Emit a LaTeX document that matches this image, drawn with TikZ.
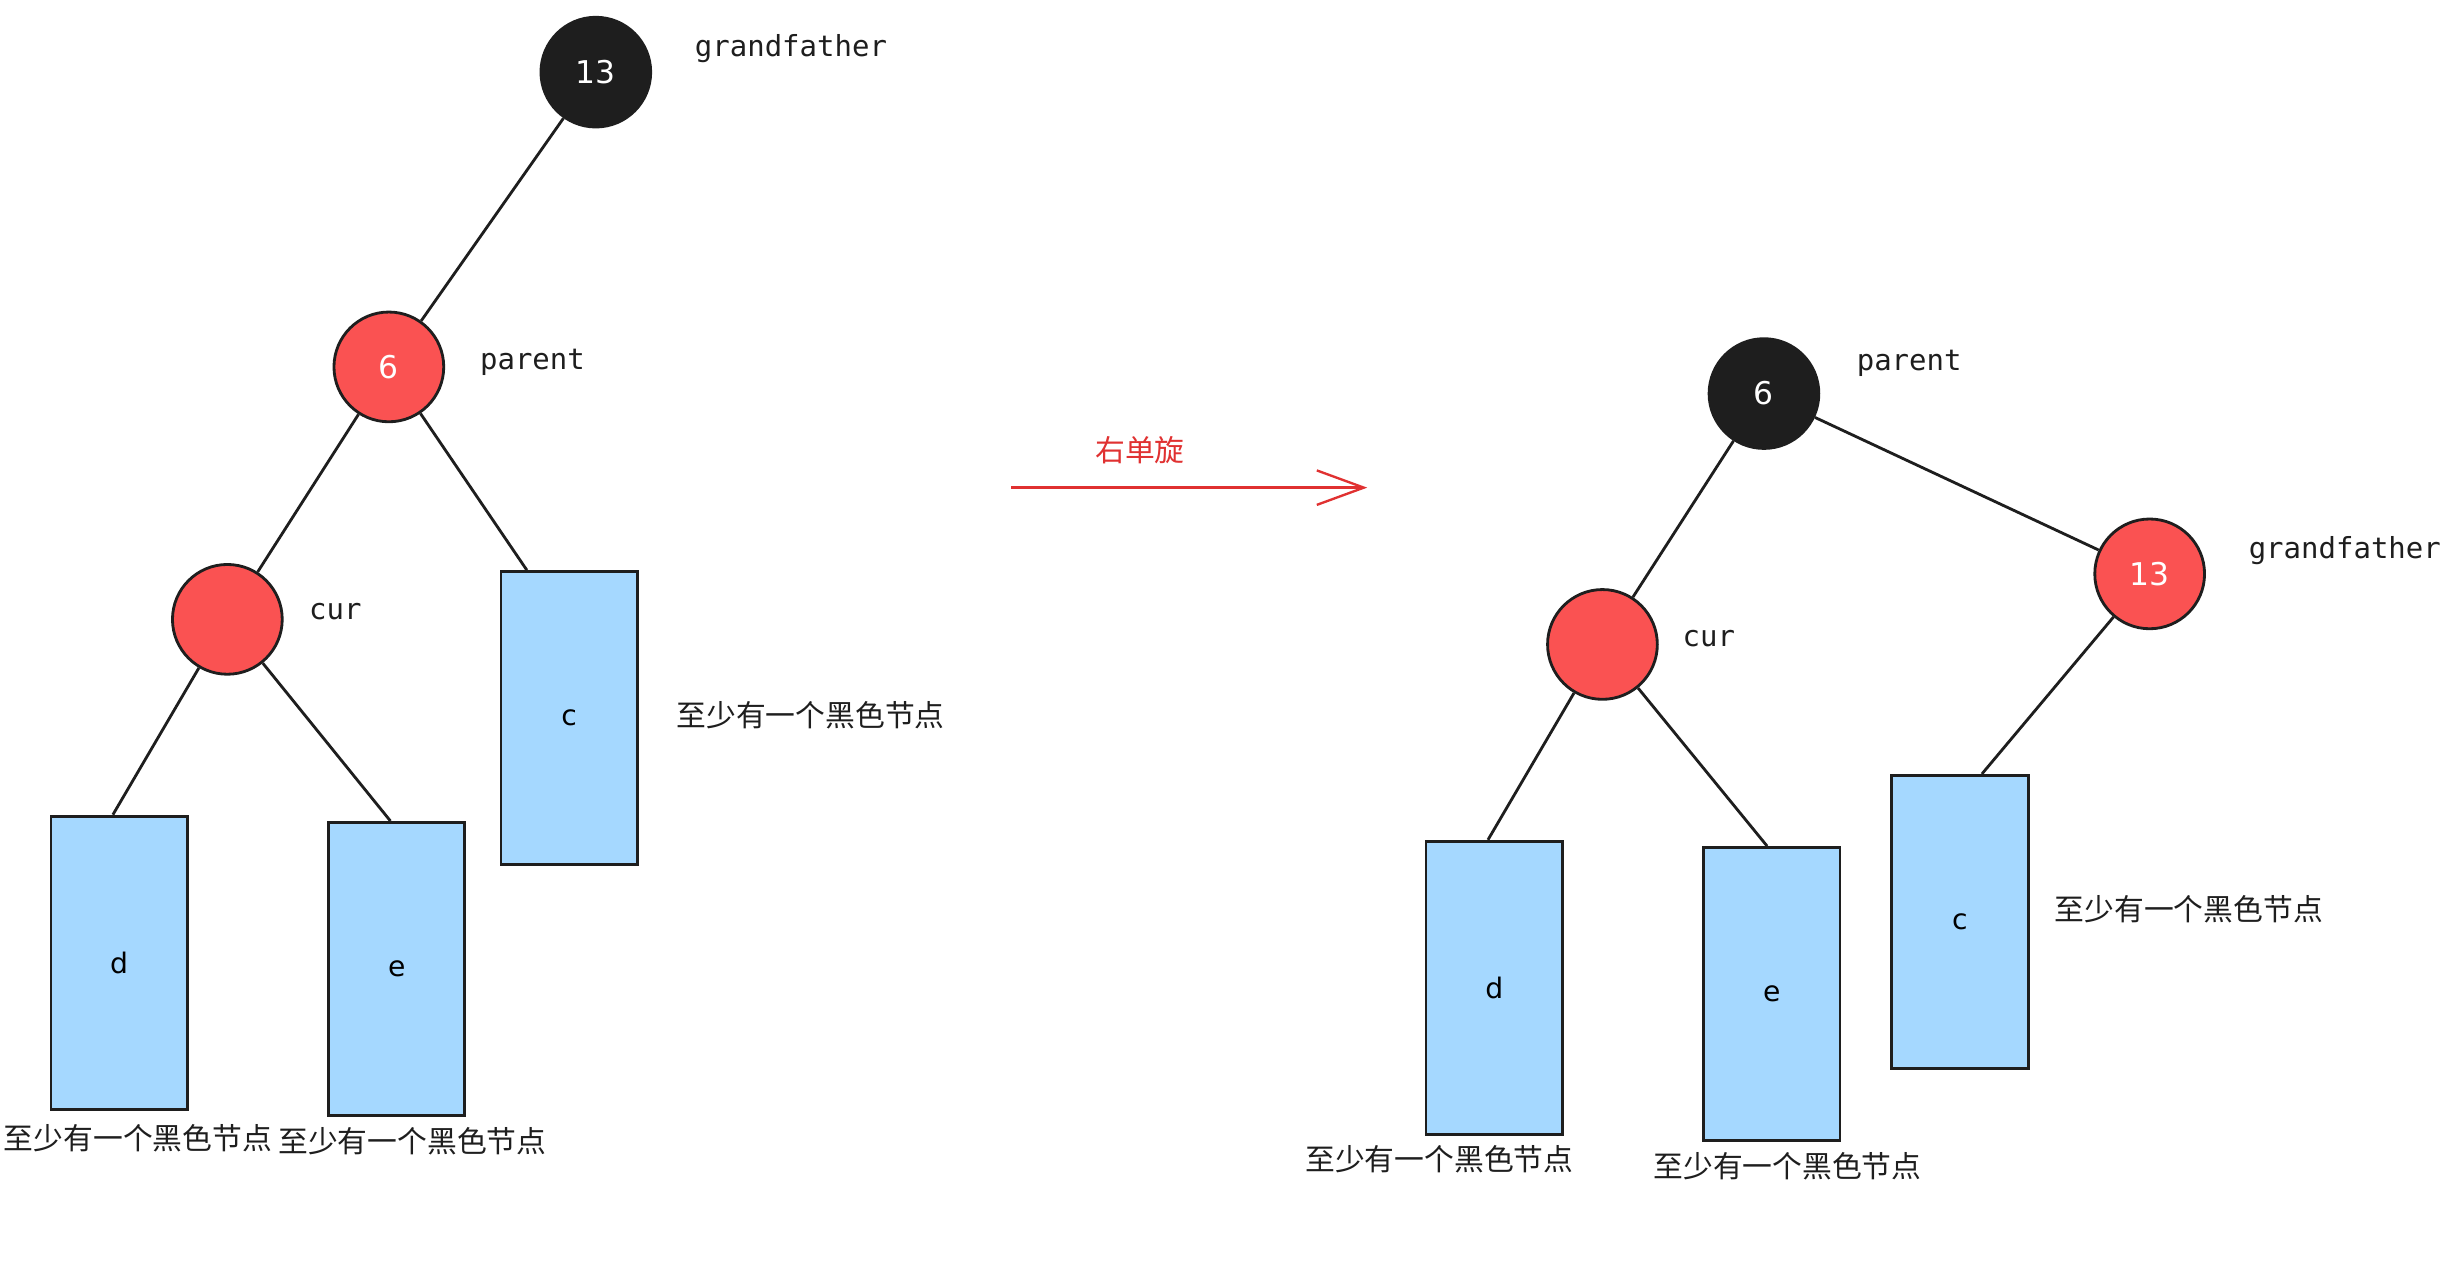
\documentclass[tikz,border=0pt]{standalone}
\usepackage{fontspec}
\setmainfont{DejaVu Sans}
\setmonofont{DejaVu Sans Mono}
\newfontfamily\cjk{Noto Sans CJK SC}
\usetikzlibrary{arrows.meta}
\usetikzlibrary{positioning}
\definecolor{nodeblack}{HTML}{1E1E1E}
\definecolor{nodered}{HTML}{FA5252}
\definecolor{subblue}{HTML}{A5D8FF}
\definecolor{rotred}{HTML}{E03131}

\begin{document}
\begin{tikzpicture}[x=1pt,y=-1pt,
  rbnode/.style={circle,draw=nodeblack,line width=1.8pt,minimum size=70pt,inner sep=0pt,
    text=white,font=\fontsize{20}{20}\selectfont},
  blacknode/.style={rbnode,fill=nodeblack},
  rednode/.style={rbnode,fill=nodered},
  subtree/.style={rectangle,draw=nodeblack,fill=subblue,line width=1.8pt,
    minimum width=87pt,minimum height=187pt,inner sep=0pt,font=\fontsize{18}{18}\selectfont},
  tag/.style={anchor=west,inner sep=0pt,text=nodeblack,font=\ttfamily\fontsize{18.5}{18.5}\selectfont},
  note/.style={text=nodeblack,font=\cjk\fontsize{19}{19}\selectfont},
  edge/.style={draw=nodeblack,line width=1.8pt}]
\useasboundingbox (0,0) rectangle (1560,820);

% before rotation
\node[blacknode] (g1) at (380,46) {13};
\node[rednode]   (p1) at (248,234) {6};
\node[rednode]   (c1) at (145,395) {};
\node[subtree] (sd1) at (76,614) {d};
\node[subtree] (se1) at (253,618) {e};
\node[subtree] (sc1) at (363,458) {c};
\node[tag] (tg1) at (443,31) {grandfather};
\node[tag] (tp1) at (306,231) {parent};
\node[tag] (tc1) at (197,390) {cur};
\node[note] (nd1) at (88,726) {至少有一个黑色节点};
\node[note] (ne1) at (263,728) {至少有一个黑色节点};
\node[note] (nc1) at (517,456) {至少有一个黑色节点};
\draw[edge] (g1) -- (p1);
\draw[edge] (p1) -- (c1);
\draw[edge] (p1) -- ([xshift=-27pt]sc1.north);
\draw[edge] (c1) -- ([xshift=-4pt]sd1.north);
\draw[edge] (c1) -- ([xshift=-4pt]se1.north);

% rotation arrow
\coordinate (r0) at (645,311);
\coordinate (r1) at (872,311);
\draw[rotred,line width=1.5pt,-{Straight Barb[length=30pt,width=22pt,line width=1.5pt]}] (r0) -- (r1);
\node[text=rotred,font=\cjk\fontsize{19}{19}\selectfont] (rl) at (727,287) {右单旋};

% after rotation
\node[blacknode] (p2) at (1125,251) {6};
\node[rednode]   (g2) at (1371,366) {13};
\node[rednode]   (c2) at (1022,411) {};
\node[subtree] (sd2) at (953,630) {d};
\node[subtree] (se2) at (1130,634) {e};
\node[subtree] (sc2) at (1250,588) {c};
\node[tag] (tp2) at (1184,232) {parent};
\node[tag] (tg2) at (1434,351) {grandfather};
\node[tag] (tc2) at (1073,407) {cur};
\node[note] (nd2) at (918,739) {至少有一个黑色节点};
\node[note] (ne2) at (1140,744) {至少有一个黑色节点};
\node[note] (nc2) at (1396,580) {至少有一个黑色节点};
\draw[edge] (p2) -- (c2);
\draw[edge] (p2) -- (g2);
\draw[edge] (g2) -- ([xshift=14pt]sc2.north);
\draw[edge] (c2) -- ([xshift=-4pt]sd2.north);
\draw[edge] (c2) -- ([xshift=-3pt]se2.north);
\end{tikzpicture}
\end{document}
